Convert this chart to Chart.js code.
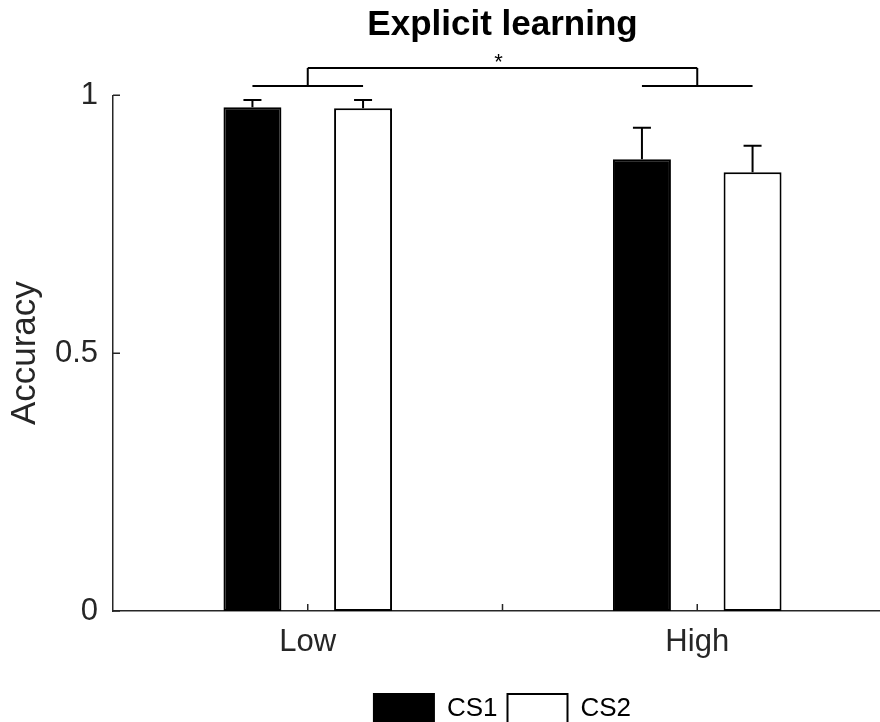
<!DOCTYPE html>
<html>
<head>
<meta charset="utf-8">
<title>Explicit learning</title>
<script src="https://cdn.jsdelivr.net/npm/chart.js@4.4.1/dist/chart.umd.min.js"></script>
<style>
  html, body { margin: 0; padding: 0; background: #ffffff; overflow: hidden; width: 880px; height: 722px; }
  #wrap { position: relative; width: 880px; height: 722px; overflow: hidden; }
  #chart { position: absolute; left: 0; top: 0; }
</style>
</head>
<body>
<div id="wrap"><canvas id="chart" width="900" height="740"></canvas></div>
<script>
// ---- data ----
const categories = ['Low', 'High'];
const seriesNames = ['CS1', 'CS2'];
const cs1Accuracy = [0.977, 0.876];
const cs2Accuracy = [0.975, 0.851];
const cs1Error = [0.014, 0.061];
const cs2Error = [0.016, 0.051];
const yTicks = [0, 0.5, 1];
const titleText = 'Explicit learning';
const yLabel = 'Accuracy';
const sigMark = '*';

// ---- styling ----
const AXIS = '#262626';
const FONT = "'Liberation Sans', Arial, Helvetica, sans-serif";
const BRACKET_LOW = 1.018;   // value level of the within-group brackets
const BRACKET_HIGH = 1.053;  // value level of the between-group bracket

// upward error bars with caps, placed on each bar element
const errorBarPlugin = {
  id: 'errorBars',
  afterDatasetsDraw(chart) {
    const { ctx } = chart;
    const yScale = chart.scales.y;
    ctx.save();
    ctx.strokeStyle = '#000';
    ctx.lineWidth = 2;
    chart.data.datasets.forEach((ds, i) => {
      const meta = chart.getDatasetMeta(i);
      meta.data.forEach((bar, j) => {
        const top = yScale.getPixelForValue(ds.data[j] + ds.errors[j]);
        const x = bar.x;
        ctx.beginPath();
        ctx.moveTo(x, bar.y);
        ctx.lineTo(x, top);
        ctx.moveTo(x - 9, top);
        ctx.lineTo(x + 9, top);
        ctx.stroke();
      });
    });
    ctx.restore();
  }
};

// significance brackets joining the two groups
const bracketPlugin = {
  id: 'brackets',
  afterDatasetsDraw(chart) {
    const { ctx } = chart;
    const yScale = chart.scales.y;
    const m0 = chart.getDatasetMeta(0);
    const m1 = chart.getDatasetMeta(1);
    const yLow = yScale.getPixelForValue(BRACKET_LOW);
    const yHigh = yScale.getPixelForValue(BRACKET_HIGH);
    const mids = [];
    ctx.save();
    ctx.strokeStyle = '#000';
    ctx.lineWidth = 2;
    categories.forEach((c, j) => {
      const x1 = m0.data[j].x;
      const x2 = m1.data[j].x;
      const mid = (x1 + x2) / 2;
      mids.push(mid);
      ctx.beginPath();
      ctx.moveTo(x1, yLow);
      ctx.lineTo(x2, yLow);
      ctx.moveTo(mid, yLow);
      ctx.lineTo(mid, yHigh);
      ctx.stroke();
    });
    ctx.beginPath();
    ctx.moveTo(mids[0], yHigh);
    ctx.lineTo(mids[mids.length - 1], yHigh);
    ctx.stroke();
    ctx.fillStyle = '#000';
    ctx.font = '22px ' + FONT;
    ctx.textAlign = 'center';
    ctx.textBaseline = 'alphabetic';
    ctx.fillText(sigMark, (mids[0] + mids[mids.length - 1]) / 2 - 4, yHigh + 1);
    ctx.restore();
  }
};

// inward-pointing tick marks on both axes
const innerTickPlugin = {
  id: 'innerTicks',
  afterDraw(chart) {
    const { ctx } = chart;
    const xs = chart.scales.x;
    const ys = chart.scales.y;
    ctx.save();
    ctx.strokeStyle = AXIS;
    ctx.lineWidth = 1.5;
    ctx.beginPath();
    yTicks.forEach(v => {
      const py = ys.getPixelForValue(v);
      ctx.moveTo(xs.left, py);
      ctx.lineTo(xs.left + 7, py);
    });
    const centers = categories.map((c, i) => xs.getPixelForValue(i));
    const tickXs = [centers[0], (centers[0] + centers[1]) / 2, centers[1]];
    tickXs.forEach(px => {
      ctx.moveTo(px, ys.bottom);
      ctx.lineTo(px, ys.bottom - 7);
    });
    ctx.stroke();
    ctx.restore();
  }
};

const chart = new Chart(document.getElementById('chart'), {
  type: 'bar',
  data: {
    labels: categories,
    datasets: [
      {
        label: seriesNames[0],
        data: cs1Accuracy,
        errors: cs1Error,
        backgroundColor: '#000000',
        borderColor: '#000000',
        borderWidth: 2,
        borderSkipped: false,
        categoryPercentage: 0.568,
        barPercentage: 0.524
      },
      {
        label: seriesNames[1],
        data: cs2Accuracy,
        errors: cs2Error,
        backgroundColor: '#ffffff',
        borderColor: '#000000',
        borderWidth: 2,
        borderSkipped: false,
        categoryPercentage: 0.568,
        barPercentage: 0.524
      }
    ]
  },
  options: {
    responsive: false,
    animation: false,
    events: [],
    layout: { padding: { left: 0, right: 8, top: 0, bottom: 6 } },
    scales: {
      x: {
        type: 'category',
        offset: true,
        grid: { display: false, drawTicks: false },
        border: { display: true, color: AXIS, width: 1.5 },
        ticks: { color: AXIS, font: { family: FONT, size: 31 }, padding: 13, maxRotation: 0 },
        afterFit(scale) { scale.height = 73; }
      },
      y: {
        min: 0,
        max: 1,
        afterBuildTicks(scale) { scale.ticks = yTicks.map(v => ({ value: v })); },
        grid: { display: false, drawTicks: false },
        border: { display: true, color: AXIS, width: 1.5 },
        ticks: {
          color: AXIS,
          font: { family: FONT, size: 31 },
          padding: 15,
          callback: (value) => String(value)
        },
        title: {
          display: true,
          text: yLabel,
          color: AXIS,
          font: { family: FONT, size: 35 },
          padding: { top: 4.4, bottom: 0 }
        },
        afterFit(scale) { scale.width = 113; }
      }
    },
    plugins: {
      title: {
        display: true,
        text: titleText,
        color: '#000000',
        fullSize: false,
        font: { family: FONT, size: 35, weight: 'bold' },
        padding: { top: 4.2, bottom: 49.1 }
      },
      legend: {
        display: true,
        position: 'bottom',
        fullSize: false,
        labels: {
          color: '#000000',
          font: { family: FONT, size: 26 },
          boxWidth: 60,
          boxHeight: 30,
          padding: 10
        }
      },
      tooltip: { enabled: false }
    }
  },
  plugins: [errorBarPlugin, bracketPlugin, innerTickPlugin]
});
</script>
</body>
</html>
